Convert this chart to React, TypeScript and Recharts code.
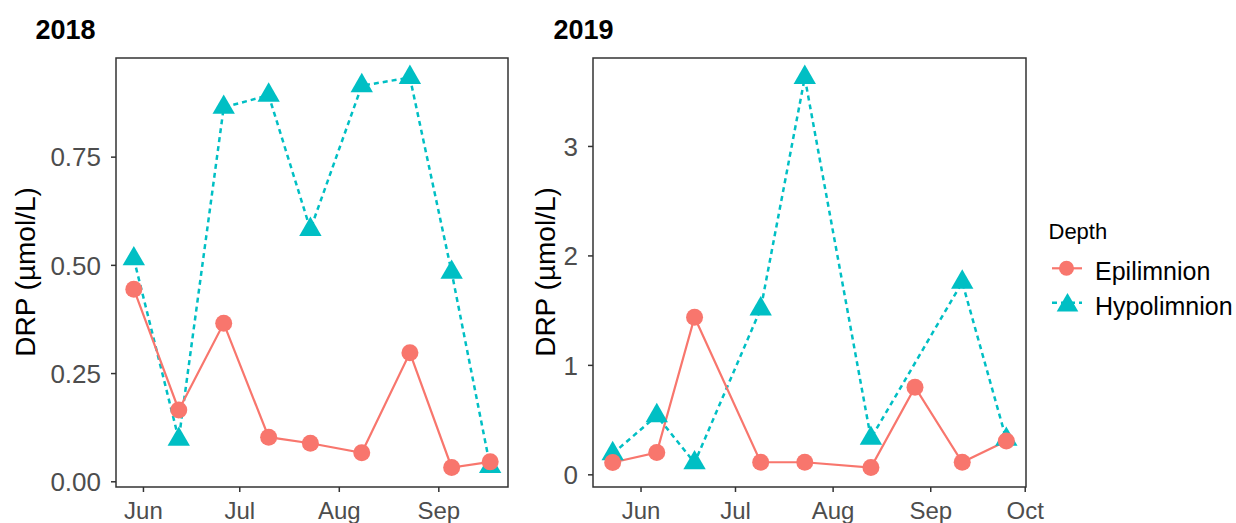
import React from 'react';
import { LineChart, Line, XAxis, YAxis, ReferenceArea } from 'recharts';

const dates2018 = ['2018-05-29', '2018-06-12', '2018-06-26', '2018-07-10', '2018-07-23', '2018-08-08', '2018-08-23', '2018-09-05', '2018-09-17'];
const epi2018 = [0.445, 0.166, 0.366, 0.103, 0.089, 0.067, 0.298, 0.033, 0.046];
const hypo2018 = [0.515, 0.098, 0.865, 0.893, 0.583, 0.915, 0.934, 0.484, 0.035];

const dates2019 = ['2019-05-23', '2019-06-06', '2019-06-18', '2019-07-09', '2019-07-23', '2019-08-13', '2019-08-27', '2019-09-11', '2019-09-25'];
const epi2019 = [0.113, 0.204, 1.44, 0.115, 0.115, 0.067, 0.8, 0.115, 0.31];
const hypo2019: (number | null)[] = [0.193, 0.54, 0.11, 1.515, 3.63, 0.333, null, 1.76, 0.324];

const monthTicks2018 = ['2018-06-01', '2018-07-01', '2018-08-01', '2018-09-01'];
const monthTicks2019 = ['2019-06-01', '2019-07-01', '2019-08-01', '2019-09-01', '2019-10-01'];
const yTicks2018 = [0, 0.25, 0.5, 0.75];
const yTicks2019 = [0, 1, 2, 3];
const monthNames = ['Jan', 'Feb', 'Mar', 'Apr', 'May', 'Jun', 'Jul', 'Aug', 'Sep', 'Oct', 'Nov', 'Dec'];

const seriesNames = ['Epilimnion', 'Hypolimnion'];
const legendTitle = 'Depth';
const yLabel = 'DRP (µmol/L)';

const EPI = '#F8766D';
const HYPO = '#00BFC4';
const FONT = '"Liberation Sans", Arial, Helvetica, sans-serif';

const ts = (s: string) => new Date(s).getTime();

function build(dates: string[], epi: (number | null)[], hypo: (number | null)[]) {
  return dates.map((d, i) => ({ t: ts(d), epi: epi[i], hypo: hypo[i] }));
}

function expand(vals: number[]): [number, number] {
  const mn = Math.min(...vals);
  const mx = Math.max(...vals);
  const pad = (mx - mn) * 0.05;
  return [mn - pad, mx + pad];
}

const XC = 8.3;
const Triangle = (props: any) => {
  const { cx, cy, index, value } = props;
  if (cx == null || cy == null || value == null || Number.isNaN(cy)) return <g key={`t-${index}`} />;
  const r = 1.5551 * XC;
  const hw = 1.3468 * XC;
  const b = 0.7776 * XC;
  return (
    <path
      key={`t-${index}`}
      d={`M${cx},${cy - r}L${cx + hw},${cy + b}L${cx - hw},${cy + b}Z`}
      fill={HYPO}
    />
  );
};

const monthFmt = (v: number) => monthNames[new Date(v).getUTCMonth()];

interface PanelProps {
  dates: string[];
  epi: (number | null)[];
  hypo: (number | null)[];
  monthTicks: string[];
  yTicks: number[];
  yFmt: (v: number) => string;
  width: number;
  yAxisWidth: number;
  rightMargin: number;
}

function Panel({ dates, epi, hypo, monthTicks, yTicks, yFmt, width, yAxisWidth, rightMargin }: PanelProps) {
  const data = build(dates, epi, hypo);
  const xDom = expand(data.map((d) => d.t));
  const allY = [...epi, ...hypo].filter((v): v is number => v != null);
  const yDom = expand(allY);
  return (
    <LineChart
      width={width}
      height={523}
      data={data}
      margin={{ top: 58, right: rightMargin, bottom: 0, left: 0 }}
      style={{ fontFamily: FONT }}
    >
      <XAxis
        dataKey="t"
        type="number"
        domain={xDom}
        ticks={monthTicks.map(ts)}
        tickFormatter={monthFmt}
        height={36}
        tickSize={5}
        tickMargin={10}
        axisLine={false}
        tickLine={{ stroke: '#333333', strokeWidth: 1.5 }}
        tick={{ fill: '#4D4D4D', fontSize: 24, fontFamily: FONT }}
        allowDataOverflow
        interval={0}
      />
      <YAxis
        type="number"
        domain={yDom}
        ticks={yTicks}
        tickFormatter={yFmt}
        width={yAxisWidth}
        tickSize={5}
        tickMargin={10}
        axisLine={false}
        tickLine={{ stroke: '#333333', strokeWidth: 1.5 }}
        tick={{ fill: '#4D4D4D', fontSize: 26, fontFamily: FONT }}
        allowDataOverflow
        interval={0}
      />
      <Line
        dataKey="hypo"
        stroke={HYPO}
        strokeWidth={2.5}
        strokeDasharray="5 4"
        dot={Triangle}
        activeDot={false}
        connectNulls
        isAnimationActive={false}
        type="linear"
      />
      <Line
        dataKey="epi"
        stroke={EPI}
        strokeWidth={2.2}
        dot={{ r: 8.5, fill: EPI, stroke: EPI, strokeWidth: 0 }}
        activeDot={false}
        connectNulls
        isAnimationActive={false}
        type="linear"
      />
      <ReferenceArea
        x1={xDom[0]}
        x2={xDom[1]}
        y1={yDom[0]}
        y2={yDom[1]}
        fill="none"
        fillOpacity={0}
        stroke="#333333"
        strokeWidth={1.5}
        strokeOpacity={1}
        ifOverflow="visible"
      />
    </LineChart>
  );
}

export default function App() {
  const txt = { fontFamily: FONT };
  return (
    <div style={{ position: 'absolute', left: 0, top: 0, width: 1236, height: 523, background: '#fff', overflow: 'hidden' }}>
      <div style={{ position: 'absolute', left: 0, top: 0 }}>
        <Panel
          dates={dates2018}
          epi={epi2018}
          hypo={hypo2018}
          monthTicks={monthTicks2018}
          yTicks={yTicks2018}
          yFmt={(v) => v.toFixed(2)}
          width={520}
          yAxisWidth={116}
          rightMargin={12}
        />
      </div>
      <div style={{ position: 'absolute', left: 520, top: 0 }}>
        <Panel
          dates={dates2019}
          epi={epi2019}
          hypo={hypo2019}
          monthTicks={monthTicks2019}
          yTicks={yTicks2019}
          yFmt={(v) => String(v)}
          width={540}
          yAxisWidth={73}
          rightMargin={34}
        />
      </div>
      <svg width={1236} height={523} style={{ position: 'absolute', left: 0, top: 0, pointerEvents: 'none' }}>
        <text x={35.5} y={38.5} fontSize={27} fontWeight="bold" fill="#000" style={txt}>2018</text>
        <text x={553.5} y={38.5} fontSize={27} fontWeight="bold" fill="#000" style={txt}>2019</text>
        <text x={35} y={272} fontSize={28} fill="#000" textAnchor="middle" transform="rotate(-90 35 272)" style={txt}>{yLabel}</text>
        <text x={555} y={272} fontSize={28} fill="#000" textAnchor="middle" transform="rotate(-90 555 272)" style={txt}>{yLabel}</text>
        <text x={1048.5} y={238.5} fontSize={22} fill="#000" style={txt}>{legendTitle}</text>
        <line x1={1052} x2={1082} y1={268.3} y2={268.3} stroke={EPI} strokeWidth={2.2} />
        <circle cx={1066.5} cy={268.3} r={7.5} fill={EPI} />
        <text x={1095} y={280} fontSize={25} fill="#000" style={txt}>{seriesNames[0]}</text>
        <line x1={1052} x2={1082} y1={302.7} y2={302.7} stroke={HYPO} strokeWidth={2.5} strokeDasharray="5 4" />
        <path d={`M1067.5,${305.4 - 12.4}L${1067.5 + 10.8},${305.4 + 6.2}L${1067.5 - 10.8},${305.4 + 6.2}Z`} fill={HYPO} />
        <text x={1095} y={315} fontSize={25} fill="#000" style={txt}>{seriesNames[1]}</text>
      </svg>
    </div>
  );
}
